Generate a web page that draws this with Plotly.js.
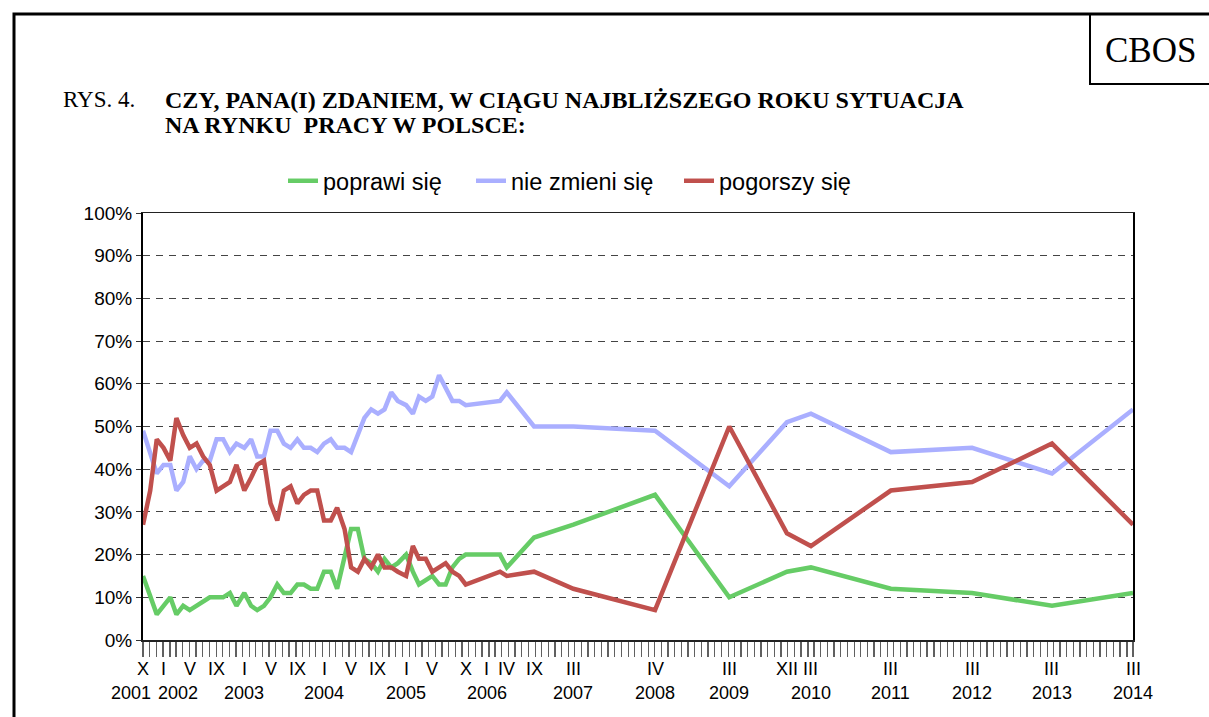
<!DOCTYPE html>
<html><head><meta charset="utf-8">
<script src="https://cdn.plot.ly/plotly-3.0.1.min.js"></script>
<style>html,body{margin:0;padding:0;background:#fff;} #chart{width:1209px;height:717px;}</style>
</head><body><div id="chart"></div>
<script>
// survey dates (position of each survey on the time axis)
const dates = [
 '2001-10-01','2001-11-03','2001-12-03','2002-01-03','2002-02-03','2002-03-03','2002-04-03','2002-05-03',
 '2002-06-03','2002-07-03','2002-08-03','2002-09-03','2002-10-03','2002-11-03','2002-12-03',
 '2003-01-08','2003-02-08','2003-03-08','2003-04-08','2003-05-08','2003-06-08','2003-07-08','2003-08-08',
 '2003-09-08','2003-10-08','2003-11-08','2003-12-08','2004-01-08','2004-02-08','2004-03-08',
 '2004-04-11','2004-05-11','2004-06-11','2004-07-11','2004-08-11','2004-09-11','2004-10-11','2004-11-11','2004-12-11',
 '2005-01-18','2005-02-18','2005-03-18','2005-04-18','2005-05-18','2005-06-18','2005-07-18','2005-08-18','2005-09-18','2005-10-18',
 '2006-03-24','2006-04-24','2006-08-27','2007-02-23','2008-03-03','2009-02-06','2009-10-28','2010-02-15',
 '2011-02-16','2012-02-23','2013-02-23','2014-03-01'
];
const poprawi = [15,10,6,8,10,6,8,7,8,9,10,10,10,11,8,11,8,7,8,10,13,11,11,13,13,12,12,16,16,12,
 19,26,26,19,18,16,19,17,18,20,16,13,14,15,13,13,17,19,20,
 20,17,24,27,34,10,16,17,12,11,8,11];
const nieZmieni = [49,44,39,41,41,35,37,43,40,42,42,47,47,44,46,45,47,43,43,49,49,46,45,47,45,45,44,46,47,45,
 45,44,48,52,54,53,54,58,56,55,53,57,56,57,62,59,56,56,55,
 56,58,50,50,49,36,51,53,44,45,39,54];
const pogorszy = [27,35,47,45,42,52,48,45,46,43,41,35,36,37,41,35,38,41,42,32,28,35,36,32,34,35,35,28,28,31,
 26,17,16,19,17,20,17,17,16,15,22,19,19,16,17,18,16,15,13,
 16,15,16,12,7,50,25,22,35,37,46,27];

const seriesNames = ['poprawi się','nie zmieni się','pogorszy się'];
const seriesColors = ['#66CC66','#AAAFFF','#C0504D'];

const tickDates = ['2001-10-01','2002-01-03','2002-05-03','2002-09-03','2003-01-08','2003-05-08','2003-09-08',
 '2004-01-08','2004-05-11','2004-09-11','2005-01-18','2005-05-18','2005-10-18','2006-01-22','2006-04-24',
 '2006-08-27','2007-02-23','2008-03-03','2009-02-06','2009-10-28','2010-02-15','2011-02-16','2012-02-23',
 '2013-02-23','2014-03-01'];
const tickMonths = ['X','I','V','IX','I','V','IX','I','V','IX','I','V','X','I','IV','IX','III','IV','III','XII','III','III','III','III','III'];
const tickYears  = ['2001','2002','','','2003','','','2004','','','2005','','','2006','','','2007','2008','2009','','2010','2011','2012','2013','2014'];

// plot-area geometry in pixels
const L = 143, R = 1133, T = 213, B = 640;
const px = x => (x - L) / (R - L);
const py = y => (B - y) / (B - T);

const FONT = 'Arial, Liberation Sans, sans-serif';
const SERIF = 'Liberation Serif, Times New Roman, serif';
const legendIds = ['legend', 'legend2', 'legend3'];
const legendX = [285, 473, 681];

const ys = [poprawi, nieZmieni, pogorszy];
const traces = ys.map((v, i) => ({
  x: dates, y: v, type: 'scatter', mode: 'lines', name: seriesNames[i],
  legend: legendIds[i],
  line: {color: seriesColors[i], width: 4.5}
}));

const legendBase = i => ({orientation: 'h', x: px(legendX[i] - 2), xanchor: 'left', y: py(181), yanchor: 'middle',
  font: {size: 23.5, family: FONT, color: '#000'}, bgcolor: 'rgba(0,0,0,0)', borderwidth: 0, itemwidth: 30});

// x-axis labels: month row and year row, placed at their survey dates
const labelFont = {size: 18, family: FONT, color: '#000'};
const monthAnnotations = tickDates.map((d, i) => ({
  text: tickMonths[i], x: d, xref: 'x', y: py(657), yref: 'paper', xanchor: 'center', yanchor: 'top',
  showarrow: false, font: labelFont
}));
const yearShift = {'2001': -12, '2002': 14};
const yearAnnotations = tickDates.map((d, i) => ({
  text: tickYears[i], x: d, xref: 'x', y: py(681), yref: 'paper', xanchor: 'center', yanchor: 'top',
  xshift: yearShift[tickYears[i]] || 0, showarrow: false, font: labelFont
})).filter(a => a.text !== '');

const layout = {
  width: 1209, height: 717,
  margin: {l: L, r: 1209 - R, t: T, b: 717 - B},
  paper_bgcolor: '#fff', plot_bgcolor: '#fff',
  font: {family: FONT, color: '#000'},
  showlegend: true,
  legend: legendBase(0), legend2: legendBase(1), legend3: legendBase(2),
  xaxis: {
    type: 'date', range: ['2001-10-01', '2014-03-01'],
    tickmode: 'linear', tick0: '2001-10-01', dtick: 'M1',
    ticks: 'outside', ticklen: 15, tickcolor: '#606060', tickwidth: 1.3,
    showticklabels: true, tickfont: {size: 1, color: 'rgba(0,0,0,0)'}, tickformat: ' ',
    showgrid: false, zeroline: false,
    showline: true, linecolor: '#222', linewidth: 1.5, mirror: true
  },
  yaxis: {
    range: [0, 100], dtick: 10, ticksuffix: '%',
    ticks: 'outside', ticklen: 5, tickcolor: '#333',
    tickfont: {size: 19, family: FONT},
    showgrid: true, gridcolor: '#444', gridwidth: 1, griddash: '7px,6px',
    zeroline: false, showline: true, linecolor: '#000', linewidth: 2, mirror: true
  },
  shapes: [
    {type: 'rect', xref: 'paper', yref: 'paper', x0: px(14), x1: px(1230), y0: py(740), y1: py(14),
     line: {color: '#000', width: 3}, fillcolor: 'rgba(0,0,0,0)'},
    {type: 'rect', xref: 'paper', yref: 'paper', x0: px(1090), x1: px(1230), y0: py(84), y1: py(14),
     line: {color: '#000', width: 2}, fillcolor: 'rgba(0,0,0,0)'}
  ],
  annotations: [
    {text: 'CBOS', xref: 'paper', yref: 'paper', x: px(1150), y: py(50), xanchor: 'center', yanchor: 'middle',
     showarrow: false, font: {family: SERIF, size: 35, color: '#000'}},
    {text: 'RYS. 4.', xref: 'paper', yref: 'paper', x: px(61), y: py(100), xanchor: 'left', yanchor: 'middle',
     showarrow: false, font: {family: SERIF, size: 23, color: '#000'}},
    {text: '<b>CZY, PANA(I) ZDANIEM, W CIĄGU NAJBLIŻSZEGO ROKU SYTUACJA</b>', xref: 'paper', yref: 'paper',
     x: px(163), y: py(100), xanchor: 'left', yanchor: 'middle', showarrow: false,
     font: {family: SERIF, size: 24, color: '#000'}},
    {text: '<b>NA RYNKU \u00A0PRACY W POLSCE:</b>', xref: 'paper', yref: 'paper',
     x: px(163), y: py(125), xanchor: 'left', yanchor: 'middle', showarrow: false,
     font: {family: SERIF, size: 24, color: '#000'}}
  ].concat(monthAnnotations, yearAnnotations)
};

Plotly.newPlot('chart', traces, layout, {displayModeBar: false, staticPlot: true});
</script>
</body></html>
